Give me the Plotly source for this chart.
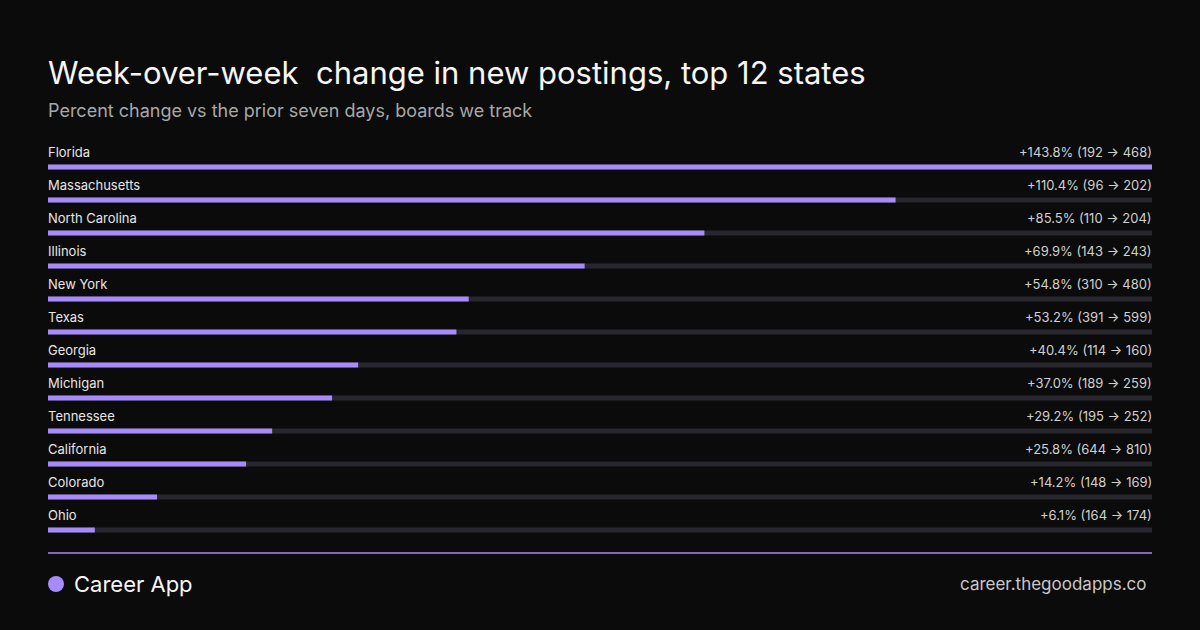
import plotly.graph_objects as go

states = ["Florida", "Massachusetts", "North Carolina", "Illinois", "New York", "Texas",
          "Georgia", "Michigan", "Tennessee", "California", "Colorado", "Ohio"]
pct = [143.8, 110.4, 85.5, 69.9, 54.8, 53.2, 40.4, 37.0, 29.2, 25.8, 14.2, 6.1]
prior = [192, 96, 110, 143, 310, 391, 114, 189, 195, 644, 148, 164]
current = [468, 202, 204, 243, 480, 599, 160, 259, 252, 810, 169, 174]

W, H = 1200, 630
BG = "#0b0b0b"
PURPLE = "#a78bfa"
TRACK = "#28272e"
FONT = "Inter"
xmax = max(pct)
rows = list(range(len(states)))

fig = go.Figure()
fig.add_trace(go.Bar(y=rows, x=[xmax] * len(rows), orientation="h", width=0.15,
                     marker=dict(color=TRACK, line_width=0), hoverinfo="skip"))
fig.add_trace(go.Bar(y=rows, x=pct, orientation="h", width=0.15,
                     marker=dict(color=PURPLE, line_width=0)))

ann = []
for i, s in enumerate(states):
    ann.append(dict(x=0, y=i - 0.46, xref="x", yref="y", text=s, showarrow=False,
                    xanchor="left", yanchor="middle", xshift=-2,
                    font=dict(size=13, color="#e6e6e6")))
    ann.append(dict(x=xmax, y=i - 0.46, xref="x", yref="y",
                    text=f"+{pct[i]:.1f}% ({prior[i]} → {current[i]})", showarrow=False,
                    xanchor="right", yanchor="middle", xshift=2,
                    font=dict(size=13, color="#d0d0d0")))

ann += [
    dict(x=48 / W, y=1 - 72 / H, xref="paper", yref="paper", showarrow=False,
         text="Week-over-week  change in new postings, top 12 states", xshift=-2,
         xanchor="left", yanchor="middle", font=dict(size=31, color="#f5f5f5")),
    dict(x=48 / W, y=1 - 110 / H, xref="paper", yref="paper", showarrow=False,
         text="Percent change vs the prior seven days, boards we track", xshift=-2,
         xanchor="left", yanchor="middle", font=dict(size=18, color="#a8a8a8")),
    dict(x=72 / W, y=1 - 584 / H, xref="paper", yref="paper", showarrow=False,
         text="Career App", xanchor="left", yanchor="middle",
         font=dict(size=22, color="#f5f5f5")),
    dict(x=1149 / W, y=1 - 584 / H, xref="paper", yref="paper", showarrow=False,
         text="career.thegoodapps.co", xanchor="right", yanchor="middle",
         font=dict(size=17, color="#c8c8c8")),
]

shapes = [
    dict(type="line", xref="paper", yref="paper", x0=48 / W, x1=1152 / W,
         y0=1 - 553 / H, y1=1 - 553 / H, line=dict(color=PURPLE, width=1.5)),
    dict(type="circle", xref="paper", yref="paper", x0=48 / W, x1=64 / W,
         y0=1 - 592 / H, y1=1 - 576 / H, fillcolor=PURPLE, line_width=0),
]

top_pix, bot_pix, row0, step = 140, 540, 167, 33
fig.update_layout(
    width=W, height=H, margin=dict(l=0, r=0, t=0, b=0),
    paper_bgcolor=BG, plot_bgcolor=BG, barmode="overlay", showlegend=False,
    font=dict(family=FONT),
    xaxis=dict(range=[0, xmax], domain=[48 / W, 1152 / W], visible=False, fixedrange=True),
    yaxis=dict(range=[(bot_pix - row0) / step, (top_pix - row0) / step],
               domain=[1 - bot_pix / H, 1 - top_pix / H], visible=False, fixedrange=True),
    annotations=ann, shapes=shapes,
)

fig.write_html("out.html", config={"displayModeBar": False},
               post_script="document.body.style.margin='0';document.body.style.background='#0b0b0b';")
